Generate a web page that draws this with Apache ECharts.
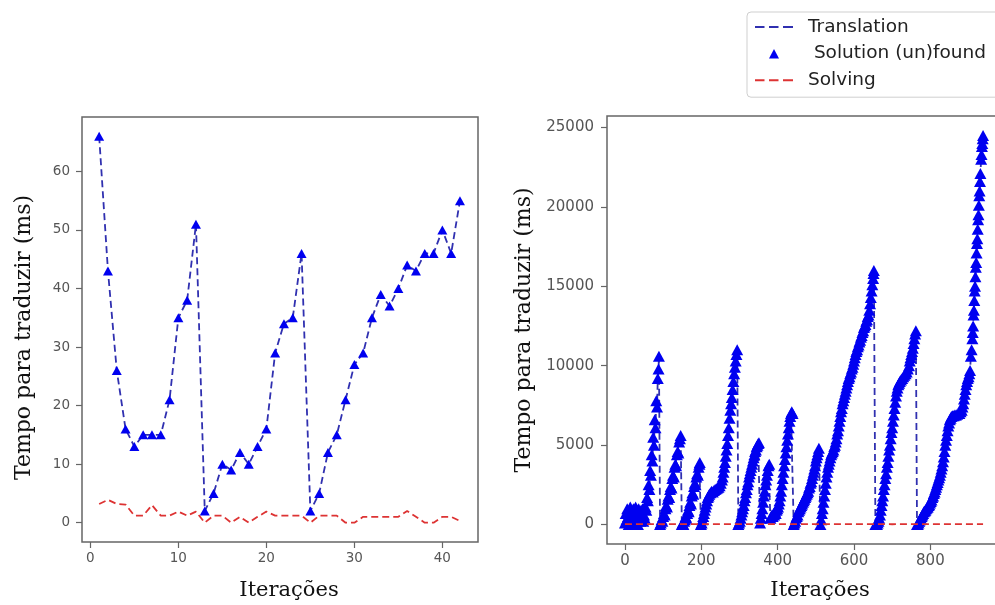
<!DOCTYPE html>
<html>
<head>
<meta charset="utf-8">
<title>Tempo para traduzir</title>
<script src="https://cdn.jsdelivr.net/npm/echarts@6.0.0/dist/echarts.min.js"></script>
<style>
  html, body { margin: 0; padding: 0; background: #fff; }
  #chart { width: 995px; height: 605px; }
</style>
</head>
<body>
<div id="chart"></div>
<script>
// left panel: 42 iterations
const leftIter = [1,2,3,4,5,6,7,8,9,10,11,12,13,14,15,16,17,18,19,20,21,22,23,24,25,26,27,28,29,30,31,32,33,34,35,36,37,38,39,40,41,42]
const leftTrans = [66,43,26,16,13,15,15,15,21,35,38,51,2,5,10,9,12,10,13,16,29,34,35,46,2,5,12,15,21,27,29,35,39,37,40,44,43,46,46,50,46,55]
const leftSolve = [3.2,3.9,3.2,3.1,1.2,1.2,3,1.2,1.2,1.9,1.2,1.9,0,1.2,1.2,0,1,0,1,1.9,1.2,1.2,1.2,1.2,0,1.2,1.2,1.2,0,0,1,1,1,1,1,2,1,0,0,1,1,0.3]

// right panel: [iteração, ms] read off the dense blobs (sampled, not every iteration)
const rightTrans = [
  // 0..46 noisy floor
  [0,100],[2,700],[4,300],[6,1000],[8,500],[10,0],[12,900],[14,1100],[16,300],[18,800],[20,100],[22,1000],
  [24,600],[26,200],[28,1100],[30,400],[32,900],[34,0],[36,1000],[38,700],[40,200],[42,900],[44,500],[46,1000],
  // first spike ~10500
  [48,200],[50,600],[52,400],[54,1100],[56,900],[58,1700],[60,1500],[62,2500],[64,2200],[66,3400],[68,3100],
  [70,4400],[72,4000],[74,5500],[76,5000],[78,6600],[80,6100],[82,7800],[84,7400],[86,9200],[88,9800],[89,10600],
  // ~5600
  [92,0],[94,100],[96,300],[98,200],[100,500],[102,700],[104,600],[106,1000],[108,1200],[110,1100],[112,1600],
  [114,1800],[116,1700],[118,2200],[120,2400],[122,2300],[124,2900],[126,3100],[128,3000],[130,3600],[132,3800],
  [134,3700],[136,4400],[138,4600],[140,4500],[142,5200],[144,5400],[146,5600],
  // ~3900
  [149,0],[151,100],[153,0],[155,200],[157,300],[159,500],[161,400],[163,700],[165,900],[167,800],[169,1200],
  [171,1400],[173,1300],[175,1800],[177,2000],[179,1900],[181,2400],[183,2600],[185,2500],[187,3000],[189,3200],
  [191,3100],[193,3600],[195,3800],[196,3900],
  // plateau then ~11000
  [199,0],[201,100],[203,300],[205,500],[207,700],[209,900],[211,1100],[213,1300],[215,1500],[217,1700],[219,1800],
  [221,1900],[224,2000],[227,2100],[230,2050],[233,2150],[236,2200],[239,2250],[242,2300],[245,2350],[248,2450],
  [251,2600],[254,2800],[256,3000],[258,3300],[260,3600],[262,3900],[264,4300],[266,4700],[268,5100],[270,5600],
  [272,6100],[274,6700],[276,7200],[278,7600],[280,8000],[282,8500],[284,9000],[286,9500],[288,9900],[290,10300],
  [292,10700],[294,11000],
  // ~5150
  [297,0],[299,100],[301,200],[303,400],[305,600],[307,800],[309,1000],[311,1200],[313,1500],[315,1700],[317,2000],
  [319,2200],[321,2500],[323,2700],[325,3000],[327,3200],[329,3400],[331,3600],[333,3800],[335,4000],[337,4200],
  [339,4400],[341,4600],[343,4700],[345,4900],[347,5000],[349,5100],[351,5150],
  // ~3800
  [354,100],[356,400],[358,700],[360,1000],[362,1400],[364,1800],[366,2100],[368,2500],[370,2800],[372,3100],
  [374,3400],[376,3700],[378,3800],
  // ~7000
  [381,400],[383,500],[385,600],[387,500],[389,700],[391,600],[393,800],[395,700],[397,900],[399,1000],[401,1100],
  [403,1300],[405,1500],[407,1800],[409,2100],[411,2500],[413,2900],[415,3300],[417,3700],[419,4100],[421,4500],
  [423,4900],[425,5300],[427,5700],[429,6100],[431,6500],[433,6800],[435,7000],[437,7100],[439,7000],
  // ~4800
  [442,0],[444,100],[446,200],[448,400],[450,500],[452,600],[454,800],[456,900],[458,1000],[460,1100],[462,1200],
  [464,1300],[466,1400],[468,1500],[470,1600],[472,1700],[474,1800],[476,1900],[478,2000],[480,2100],[482,2300],
  [484,2400],[486,2600],[488,2700],[490,2900],[492,3100],[494,3300],[496,3500],[498,3700],[500,4000],[502,4200],
  [504,4400],[506,4600],[508,4800],
  // ~16000
  [512,0],[514,300],[516,700],[518,1000],[520,1400],[522,1800],[524,2200],[526,2600],[528,3000],[530,3300],
  [532,3600],[534,3800],[536,4000],[538,4200],[540,4400],[542,4500],[544,4600],[546,4700],[548,4900],[550,5000],
  [552,5200],[554,5400],[556,5700],[558,5900],[560,6200],[562,6500],[564,6800],[566,7100],[568,7300],[570,7600],
  [572,7800],[574,8000],[576,8200],[578,8400],[580,8600],[582,8800],[584,9000],[586,9200],[588,9300],[590,9500],
  [592,9600],[594,9800],[596,9900],[598,10100],[600,10300],[602,10500],[604,10700],[606,10900],[608,11000],
  [610,11200],[612,11300],[614,11500],[616,11600],[618,11800],[620,11900],[622,12100],[624,12200],[626,12400],
  [628,12500],[630,12600],[632,12800],[634,12900],[636,13100],[638,13200],[640,13500],[642,13900],[644,14300],
  [646,14700],[648,15100],[650,15500],[651,15800],[652,16000],
  // ~12200
  [656,0],[658,0],[660,0],[662,100],[664,200],[666,400],[668,600],[670,900],[672,1200],[674,1500],[676,1800],
  [678,2200],[680,2500],[682,2900],[684,3200],[686,3600],[688,3900],[690,4300],[692,4700],[694,5000],[696,5400],
  [698,5800],[700,6100],[702,6500],[704,6900],[706,7300],[708,7700],[710,8100],[712,8400],[714,8600],[716,8800],
  [718,8900],[720,9000],[723,9100],[726,9200],[729,9300],[732,9400],[735,9500],[738,9600],[741,9800],[744,10000],
  [746,10300],[748,10500],[750,10700],[752,10900],[754,11100],[756,11400],[758,11700],[760,12000],[762,12200],
  // last run up to ~24500
  [765,0],[767,0],[769,100],[771,200],[773,300],[775,400],[777,500],[779,600],[781,700],[783,800],[785,850],
  [787,900],[789,1000],[791,1050],[793,1100],[795,1200],[797,1250],[799,1350],[801,1450],[803,1550],[805,1700],
  [807,1800],[809,1950],[811,2050],[813,2200],[815,2350],[817,2500],[819,2650],[821,2800],[823,2950],[825,3100],
  [827,3300],[829,3500],[831,3700],[833,3950],[835,4250],[837,4600],[839,5000],[841,5300],[843,5600],[845,5900],
  [847,6200],[849,6400],[851,6600],[853,6700],[855,6800],[858,6850],[861,6850],[864,6900],[867,6900],[870,6950],
  [873,7000],[876,7000],[879,7100],[882,7200],[884,7400],[886,7600],[888,7900],[890,8200],[892,8500],[894,8800],
  [896,9000],[898,9200],[900,9300],[902,9500],[904,9700],
  [906,10600],[908,11000],[910,11700],[911,12100],[912,12500],[913,13200],[914,13500],[915,14100],[916,14700],
  [917,15000],[918,15600],[919,16200],[920,16500],[921,17100],[922,17700],[923,18000],[924,18600],[925,19200],
  [926,19500],[927,20100],[928,20700],[929,21000],[930,21600],[931,22100],[933,23000],[934,23300],[935,23800],
  [936,24000],[937,24300],[938,24500]
]
const rightSolve = [[0,30],[100,20],[200,30],[300,25],[400,20],[500,30],[600,25],[700,20],[800,30],[900,25],[938,30]]

// tick labels
const leftXTicks = [0,10,20,30,40]
const leftYTicks = [0,10,20,30,40,50,60]
const rightXTicks = [0,200,400,600,800]
const rightYTicks = [0,5000,10000,15000,20000,25000]

const NAME_T = "Translation"
const NAME_S = " Solution (un)found"
const NAME_R = "Solving"

const pairs = (xs, ys) => xs.map((x, i) => [x, ys[i]])

const chartDom = echarts.init(document.getElementById("chart"))

function axisCfg(name, idx, min, max, ticks, fontSize, margin, gap, pad, nameSize) {
  return {
    type: "value", gridIndex: idx, min: min, max: max,
    name: name, nameLocation: "middle", nameGap: gap,
    nameTextStyle: { fontFamily: "DejaVu Serif", fontSize: nameSize, color: "#111", padding: pad },
    axisLine: { show: false, onZero: false },
    axisTick: { show: true, length: 6, customValues: ticks, lineStyle: { color: "#666", width: 1.2 } },
    axisLabel: { customValues: ticks, fontFamily: "DejaVu Sans", fontSize: fontSize, color: "#555", margin: margin,
      formatter: v => String(v) },
    splitLine: { show: false }
  }
}

const lineBlue = { color: "#3030b0", width: 1.8, type: [7, 4] }
const lineRed = { color: "#dd3333", width: 1.8, type: [7, 4] }

// legend icons: dashed stroke and a lone triangle inside a 38x11 box
const DASH_ICON = "path://M0,0L0,0M38,11L38,11M0,4.5h9.5v2h-9.5zM14,4.5h9.5v2h-9.5zM28,4.5h10v2h-10z"
const TRI_ICON = "path://M0,11L0,11M38,0L38,0M14,10.5L19,1L24,10.5Z"

const option = {
  animation: false,
  backgroundColor: "#fff",
  legend: {
    orient: "vertical",
    left: 747, top: 12,
    padding: [5, 60, 7, 8],
    itemWidth: 38, itemHeight: 11, itemGap: 6.6,
    borderColor: "#cfcfcf", borderWidth: 1, borderRadius: 4,
    selectedMode: false,
    textStyle: { fontFamily: "DejaVu Sans", fontSize: 18.5, color: "#222", lineHeight: 20, padding: [0, 0, 0, 10] },
    data: [
      { name: NAME_T, icon: DASH_ICON, itemStyle: { color: "#3030b0" } },
      { name: NAME_S, icon: TRI_ICON, itemStyle: { color: "#0000f0" } },
      { name: NAME_R, icon: DASH_ICON, itemStyle: { color: "#dd3333" } }
    ]
  },
  grid: [
    { left: 82, top: 117, width: 396, height: 425, show: true, borderColor: "#666", borderWidth: 1.5,
      outerBoundsMode: "none" },
    { left: 607, top: 116, width: 394, height: 428, show: true, borderColor: "#666", borderWidth: 1.5,
      outerBoundsMode: "none" }
  ],
  xAxis: [
    axisCfg("Iterações", 0, -0.95, 44.05, leftXTicks, 13.5, 9, 38, [0, 0, 0, 18], 21),
    axisCfg("Iterações", 1, -47, 985, rightXTicks, 15, 10, 36, [0, 0, 0, 32], 21)
  ],
  yAxis: [
    axisCfg("Tempo para traduzir (ms)", 0, -3.3, 69.3, leftYTicks, 13.5, 12, 47, [0, 16, 0, 0], 22),
    axisCfg("Tempo para traduzir (ms)", 1, -1225, 25725, rightYTicks, 15, 13, 72, [0, 0, 0, 0], 22)
  ],
  series: [
    { name: NAME_T, type: "line", xAxisIndex: 0, yAxisIndex: 0, data: pairs(leftIter, leftTrans),
      symbol: "none", lineStyle: lineBlue, itemStyle: { color: "#3030b0" }, z: 2 },
    { name: NAME_S, type: "scatter", xAxisIndex: 0, yAxisIndex: 0, data: pairs(leftIter, leftTrans),
      symbol: "triangle", symbolSize: [10, 9], itemStyle: { color: "#0000f0", opacity: 1 }, z: 3 },
    { name: NAME_R, type: "line", xAxisIndex: 0, yAxisIndex: 0, data: pairs(leftIter, leftSolve),
      symbol: "none", lineStyle: lineRed, itemStyle: { color: "#dd3333" }, z: 4 },

    { name: NAME_T, type: "line", xAxisIndex: 1, yAxisIndex: 1, data: rightTrans,
      symbol: "none", lineStyle: lineBlue, itemStyle: { color: "#3030b0" }, z: 2 },
    { name: NAME_S, type: "scatter", xAxisIndex: 1, yAxisIndex: 1, data: rightTrans,
      symbol: "triangle", symbolSize: [12, 11], itemStyle: { color: "#0000f0", opacity: 1 }, z: 3, large: false },
    { name: NAME_R, type: "line", xAxisIndex: 1, yAxisIndex: 1, data: rightSolve,
      symbol: "none", lineStyle: lineRed, itemStyle: { color: "#dd3333" }, z: 4 }
  ]
}

chartDom.setOption(option, true)
window.addEventListener("resize", () => {
  chartDom.resize()
})
</script>
</body>
</html>
